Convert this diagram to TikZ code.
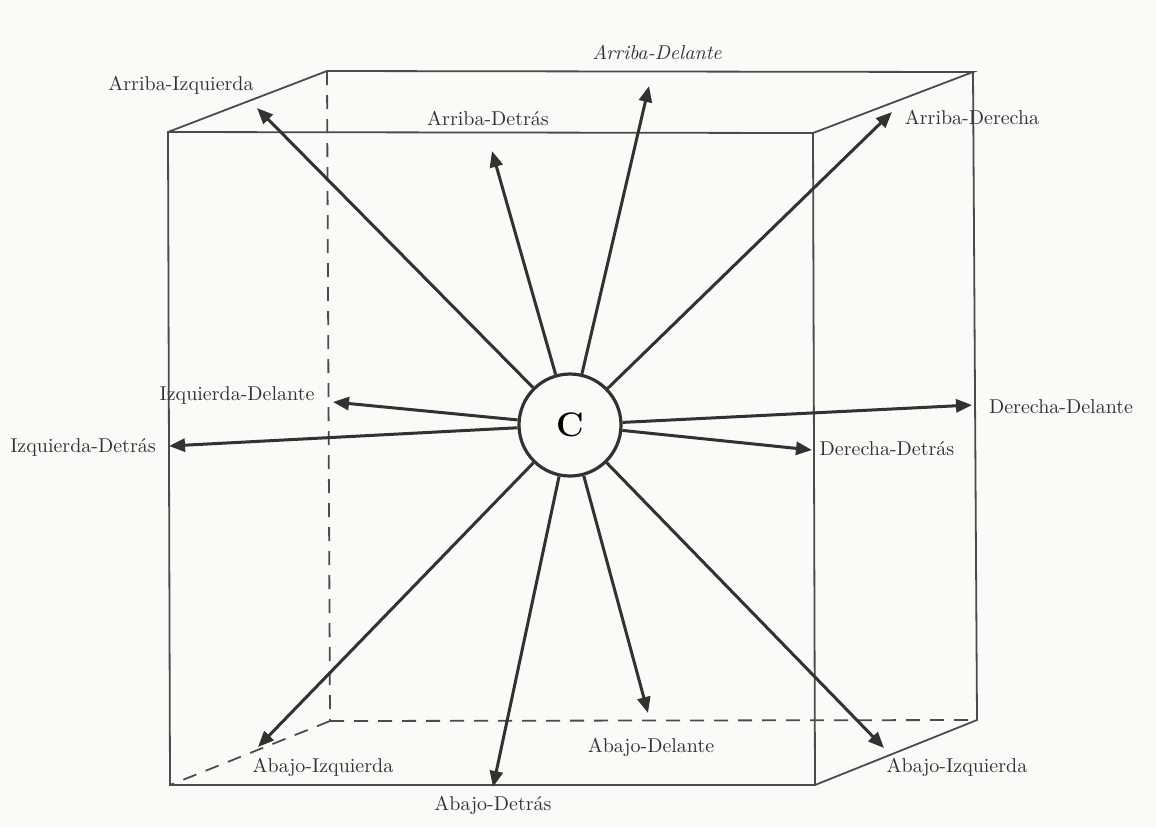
\documentclass[tikz,border=0pt]{standalone}
\usetikzlibrary{arrows.meta}
\definecolor{paper}{RGB}{250,250,247}
\definecolor{ink}{RGB}{50,50,50}
\definecolor{edge}{RGB}{75,75,75}
\tikzset{
  cubeedge/.style={draw=edge, line width=0.9pt},
  hiddenedge/.style={draw=edge, line width=0.9pt, dash pattern=on 7pt off 5pt},
  ray/.style={draw=ink, line width=1.5pt, -{Triangle[length=8pt,width=6.5pt]}},
  lbl/.style={text=ink, font=\normalsize, inner sep=1pt},
  centre/.style={circle, draw=ink, line width=1.6pt, minimum size=51pt, fill=paper, inner sep=0pt}
}
\begin{document}
\begin{tikzpicture}[x=0.5pt,y=-0.5pt]
\fill[paper] (0,0) rectangle (1156,827);
\useasboundingbox (0,0) rectangle (1156,827);
% cube corners
\coordinate (ftl) at (168,132);
\coordinate (ftr) at (813,133);
\coordinate (fbr) at (815,785);
\coordinate (fbl) at (170,785);
\coordinate (btl) at (327,71);
\coordinate (btr) at (973,72);
\coordinate (bbr) at (977,720);
\coordinate (bbl) at (330,721);
% hidden edges
\draw[hiddenedge] (btl) -- (bbl);
\draw[hiddenedge] (bbl) -- (bbr);
\draw[hiddenedge] (bbl) -- (fbl);
% visible edges
\draw[cubeedge] (ftl) -- (ftr) -- (fbr) -- (fbl) -- cycle;
\draw[cubeedge] (ftl) -- (btl) -- (btr) -- (ftr);
\draw[cubeedge] (btr) -- (bbr) -- (fbr);
% centre
\node[centre] (c) at (570,425) {\fontsize{17}{17}\selectfont\bfseries C};
% arrow tips
\coordinate (tAIz) at (257,108);
\coordinate (tADt) at (492,151);
\coordinate (tADl) at (649,86);
\coordinate (tADr) at (892,112);
\coordinate (tIDl) at (333,402);
\coordinate (tIDt) at (169,446);
\coordinate (tDDl) at (972,405);
\coordinate (tDDt) at (812,450);
\coordinate (tBIzL) at (258,747);
\coordinate (tBDt) at (493,787);
\coordinate (tBDl) at (648,713);
\coordinate (tBIzR) at (884,748);
% rays
\foreach \t in {tAIz,tADt,tADl,tADr,tIDl,tIDt,tDDl,tDDt,tBIzL,tBDt,tBDl,tBIzR}
  \draw[ray] (c) -- (\t);
% labels
\node[lbl] (lAIz) at (181,85) {Arriba-Izquierda};
\node[lbl] (lADt) at (488,118) {Arriba-Detrás};
\node[lbl] (lADl) at (657,52) {\itshape Arriba-Delante};
\node[lbl] (lADr) at (972,117) {Arriba-Derecha};
\node[lbl] (lIDl) at (237,395) {Izquierda-Delante};
\node[lbl] (lIDt) at (83,447) {Izquierda-Detrás};
\node[lbl] (lDDl) at (1061,407) {Derecha-Delante};
\node[lbl] (lDDt) at (887,449) {Derecha-Detrás};
\node[lbl] (lBIzL) at (323,767) {Abajo-Izquierda};
\node[lbl] (lBDt) at (493,805) {Abajo-Detrás};
\node[lbl] (lBDl) at (651,747) {Abajo-Delante};
\node[lbl] (lBIzR) at (957,767) {Abajo-Izquierda};
\end{tikzpicture}
\end{document}
